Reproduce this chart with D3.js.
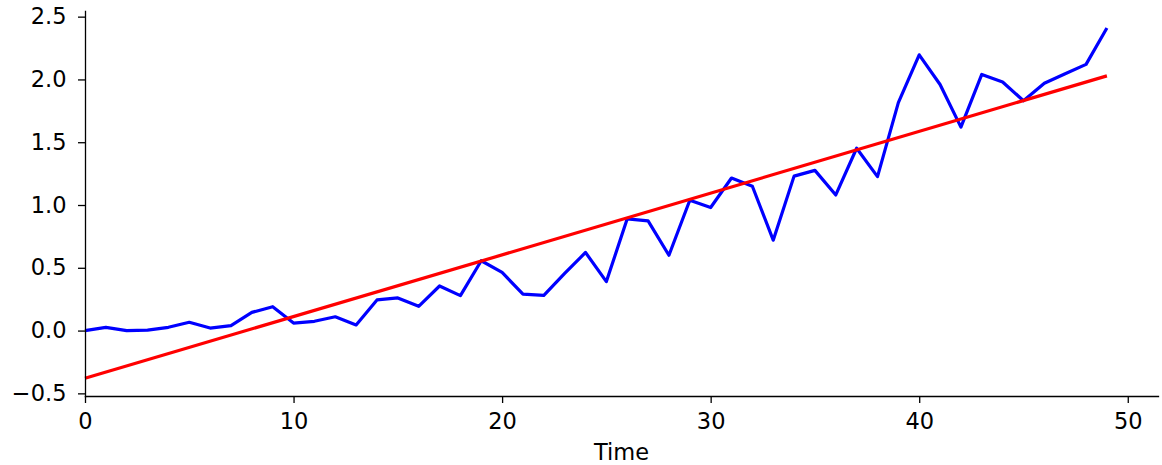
<!DOCTYPE html>
<html>
<head>
<meta charset="utf-8">
<script src="https://cdn.jsdelivr.net/npm/d3@7"></script>
<style>
  body { margin: 0; background: #fff; }
  svg { display: block; }
  .axis path, .axis line { stroke: #000; stroke-width: 1.3px; }
</style>
</head>
<body>
<svg id="chart" width="1162" height="465"></svg>
<script>
// blue series, one value per time step 0..49
const series = [
  0.00, 0.026, 0.00, 0.003, 0.026, 0.066, 0.02, 0.04, 0.145, 0.19,
  0.06, 0.074, 0.11, 0.045, 0.244, 0.26, 0.193, 0.355, 0.278, 0.556,
  0.463, 0.29, 0.28, 0.455, 0.622, 0.39, 0.89, 0.874, 0.60, 1.038,
  0.98, 1.215, 1.149, 0.72, 1.23, 1.276, 1.08, 1.452, 1.226, 1.815,
  2.196, 1.96, 1.62, 2.04, 1.98, 1.83, 1.97, 2.045, 2.12, 2.41
];

// red trend line
const trendIntercept = -0.38;
const trendSlope = 0.04915;

const xTicks = [0, 10, 20, 30, 40, 50];
const yTicks = [-0.5, 0.0, 0.5, 1.0, 1.5, 2.0, 2.5];

const svg = d3.select("#chart");
const margin = { left: 85, right: 4, top: 11, bottom: 69 };
const W = 1162, H = 465;
const FONT = "'DejaVu Sans', sans-serif";

const x = d3.scaleLinear()
  .domain([0, 51.45])
  .range([margin.left, W - margin.right]);

const y = d3.scaleLinear()
  .domain([-0.521, 2.545])
  .range([H - margin.bottom, margin.top]);

const data = series.map((v, i) => ({ t: i, v: v }));
const trend = [0, series.length - 1].map(t => ({ t: t, v: trendIntercept + trendSlope * t }));

const line = d3.line()
  .x(d => x(d.t))
  .y(d => y(d.v));

svg.append("path")
  .datum(data)
  .attr("d", line)
  .attr("fill", "none")
  .attr("stroke", "#0000ff")
  .attr("stroke-width", 3.2)
  .attr("stroke-linejoin", "round");

svg.append("path")
  .datum(trend)
  .attr("d", line)
  .attr("fill", "none")
  .attr("stroke", "#ff0000")
  .attr("stroke-width", 3.2);

// axes (left + bottom spines only)
const xAxis = svg.append("g")
  .attr("class", "axis")
  .attr("transform", `translate(0,${H - margin.bottom})`)
  .call(d3.axisBottom(x).tickValues(xTicks).tickFormat(d3.format("d"))
    .tickSizeInner(7).tickSizeOuter(0).tickPadding(10));

const yAxis = svg.append("g")
  .attr("class", "axis")
  .attr("transform", `translate(${margin.left},0)`)
  .call(d3.axisLeft(y).tickValues(yTicks)
    .tickFormat(d => d3.format(".1f")(d).replace("-", "\u2212"))
    .tickSizeInner(7).tickSizeOuter(0).tickPadding(11.5));

svg.selectAll(".axis text")
  .style("font-family", FONT)
  .style("font-size", "22.5px")
  .style("fill", "#000");
xAxis.select(".domain").attr("stroke-linecap", "square");
yAxis.select(".domain").attr("stroke-linecap", "square");

svg.append("text")
  .attr("x", (x(0) + x(51.45)) / 2)
  .attr("y", 460)
  .attr("text-anchor", "middle")
  .style("font-family", FONT)
  .style("font-size", "22.5px")
  .text("Time");
</script>
</body>
</html>
